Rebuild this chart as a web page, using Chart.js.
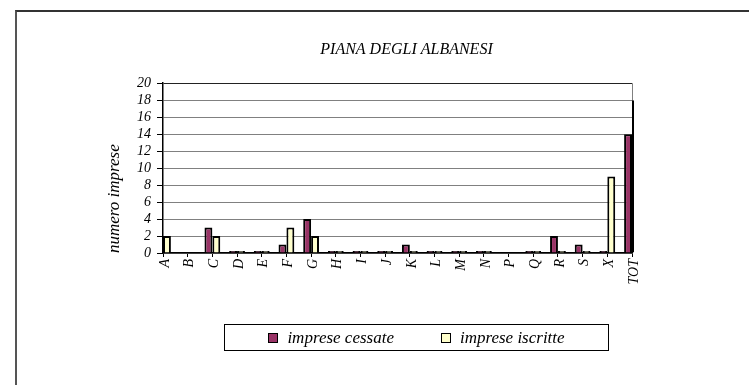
<!DOCTYPE html>
<html>
<head>
<meta charset="utf-8">
<title>Piana degli Albanesi</title>
<script src="https://cdn.jsdelivr.net/npm/chart.js@4.4.1/dist/chart.umd.min.js"></script>
<style>
  html, body { margin: 0; padding: 0; background: #fff; }
  body { width: 749px; height: 385px; position: relative; overflow: hidden; }
  #frame {
    position: absolute; left: 15px; top: 10px; width: 760px; height: 400px;
    border-top: 2px solid #333; border-left: 2px solid #555;
  }
  #myChart { position: absolute; left: 0; top: 0; }
  #legend {
    position: absolute; left: 224px; top: 324px; width: 385px; height: 27px;
    box-sizing: border-box; border: 1px solid #000;
    display: flex; align-items: center; justify-content: center; gap: 47px;
    font: italic 17px 'Liberation Serif', 'Times New Roman', serif; color: #000;
  }
  #legend .item { display: flex; align-items: center; }
  #legend .box { width: 8px; height: 8px; border: 1px solid #000; margin-right: 9px; }
</style>
</head>
<body>
<div id="frame"></div>
<canvas id="myChart" width="749" height="385"></canvas>
<div id="legend"></div>

<script>
// data (null = no bar at all)
var categories = ['A', 'B', 'C', 'D', 'E', 'F', 'G', 'H', 'I', 'J', 'K', 'L', 'M', 'N', 'P', 'Q', 'R', 'S', 'X', 'TOT'];
var cessate  = [0, null, 3, 0, 0, 1, 4, 0, 0, 0, 1, 0, 0, 0, null, 0, 2, 1, 0, 14];
var iscritte = [2, null, 2, 0, 0, 3, 2, 0, 0, 0, 0, 0, 0, 0, null, 0, 0, 0, 9, 18];
var yTicks = [0, 2, 4, 6, 8, 10, 12, 14, 16, 18, 20];

var serif = "'Liberation Serif', 'Times New Roman', serif";

// nudge the title a bit right, like the excel original
var shiftTitle = {
    id: 'shiftTitle',
    afterLayout: function (chart) {
        chart.titleBlock.left += 9;
        chart.titleBlock.right += 9;
    }
};

var ctx = document.getElementById('myChart').getContext('2d');
var chart = new Chart(ctx, {
    type: 'bar',
    data: {
        labels: categories,
        datasets: [{
            label: 'imprese cessate',
            data: cessate,
            backgroundColor: '#993366',
            borderColor: '#000',
            borderWidth: 2,
            minBarLength: 2,
            clip: { left: 0, top: 0, right: 2, bottom: 0 }
        }, {
            label: 'imprese iscritte',
            data: iscritte,
            backgroundColor: '#FFFFCC',
            borderColor: '#000',
            borderWidth: 2,
            minBarLength: 2,
            clip: { left: 0, top: 0, right: 2, bottom: 0 }
        }]
    },
    options: {
        responsive: false,
        animation: false,
        events: [],
        layout: { padding: { left: 104, right: 117, top: 0, bottom: 82 } },
        datasets: {
            bar: { categoryPercentage: 0.64, barPercentage: 1.0 }
        },
        scales: {
            x: {
                offset: false,
                afterFit: function (scale) { scale.height = 50; },
                grid: {
                    offset: false,
                    drawOnChartArea: true,
                    color: function (c) { return c.index === categories.length - 1 ? '#808080' : 'rgba(0,0,0,0)'; },
                    tickColor: '#000',
                    tickLength: 4
                },
                border: { display: true, color: '#000', width: 1.5 },
                ticks: {
                    autoSkip: false,
                    maxRotation: 90,
                    minRotation: 90,
                    padding: 2,
                    labelOffset: 2,
                    color: '#000',
                    font: { family: serif, style: 'italic', size: 14 }
                }
            },
            y: {
                min: 0,
                max: 20,
                afterFit: function (scale) { scale.width = 59; },
                afterBuildTicks: function (scale) {
                    scale.ticks = yTicks.map(function (v) { return { value: v }; });
                },
                grid: {
                    color: function (c) { return c.tick && c.tick.value === 20 ? '#222' : '#808080'; },
                    tickColor: '#000',
                    tickLength: 6
                },
                border: { display: true, color: '#000', width: 1.5 },
                ticks: {
                    autoSkip: false,
                    padding: 6,
                    color: '#000',
                    font: { family: serif, style: 'italic', size: 14 }
                },
                title: {
                    display: true,
                    text: 'numero imprese',
                    align: 'start',
                    color: '#000',
                    padding: { top: 0, bottom: 0 },
                    font: { family: serif, style: 'italic', size: 17 }
                }
            }
        },
        plugins: {
            legend: { display: false },
            tooltip: { enabled: false },
            title: {
                display: true,
                text: 'PIANA DEGLI ALBANESI',
                fullSize: false,
                color: '#000',
                padding: { top: 40, bottom: 24 },
                font: { family: serif, style: 'italic', size: 16, weight: 'normal' }
            }
        }
    },
    plugins: [shiftTitle]
});

// html legend with a frame round it
var legend = document.getElementById('legend');
chart.data.datasets.forEach(function (ds) {
    var item = document.createElement('span');
    item.className = 'item';
    var box = document.createElement('span');
    box.className = 'box';
    box.style.background = ds.backgroundColor;
    var txt = document.createElement('span');
    txt.textContent = ds.label;
    item.appendChild(box);
    item.appendChild(txt);
    legend.appendChild(item);
});
</script>
</body>
</html>
